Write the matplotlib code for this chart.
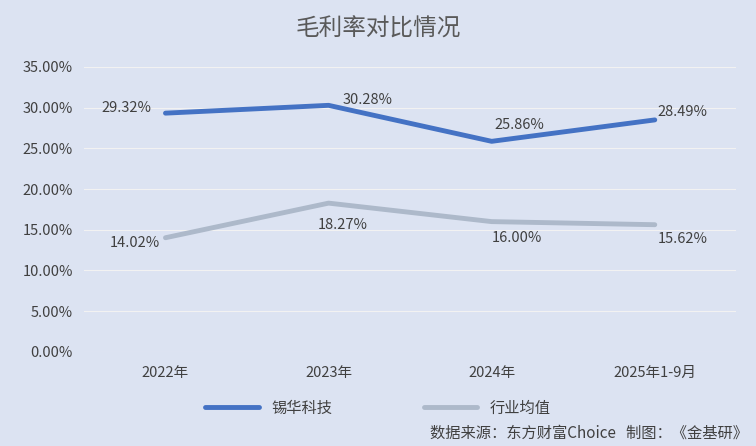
import matplotlib.pyplot as plt

plt.rcParams['font.family'] = ['Noto Sans CJK SC', 'DejaVu Sans']

categories = ["2022年", "2023年", "2024年", "2025年1-9月"]
xihua = [29.32, 30.28, 25.86, 28.49]
industry = [14.02, 18.27, 16.00, 15.62]

# label offsets in points (dx, dy)
xihua_off = [(-28, 4), (28, 4), (20, 12), (20, 6)]
ind_off = [(-22, -4), (10, -16), (18, -12), (20, -10)]

bg = "#DCE3F2"
fig = plt.figure(figsize=(7.56, 4.46), dpi=100, facecolor=bg)
ax = fig.add_axes([0.111, 0.211, 0.863, 0.639], facecolor=bg)

x = list(range(len(categories)))
ax.plot(x, xihua, color="#4472C4", lw=3.5, label="锡华科技", solid_capstyle="round")
ax.plot(x, industry, color="#ADB9CA", lw=3.5, label="行业均值", solid_capstyle="round")

for i in x:
    ax.annotate(f"{xihua[i]:.2f}%", (i, xihua[i]), xytext=xihua_off[i], textcoords="offset points",
                ha="center", va="center", fontsize=10.5, color="#404040")
    ax.annotate(f"{industry[i]:.2f}%", (i, industry[i]), xytext=ind_off[i], textcoords="offset points",
                ha="center", va="center", fontsize=10.5, color="#404040")

ax.set_xlim(-0.5, 3.5)
ax.set_ylim(0, 35)
ax.set_yticks(range(0, 36, 5))
ax.set_yticklabels([f"{v:.2f}%" for v in range(0, 36, 5)])
ax.set_xticks(x)
ax.set_xticklabels(categories)
ax.tick_params(length=0, labelsize=10.5, colors="#404040")
ax.tick_params(axis="y", pad=8)
ax.tick_params(axis="x", pad=10)
ax.grid(axis="y", color="#F2F2F2", lw=0.8)
ax.set_axisbelow(True)
for s in ax.spines.values():
    s.set_visible(False)

fig.text(0.5, 0.935, "毛利率对比情况", ha="center", va="center", fontsize=17, color="#595959")
fig.legend(loc="center", bbox_to_anchor=(0.5, 0.085), ncol=2, frameon=False,
           fontsize=11, handlelength=3.5, columnspacing=6, labelcolor="#404040")
fig.text(0.99, 0.01, "数据来源：东方财富Choice   制图：《金基研》", ha="right", va="bottom",
         fontsize=11, color="#404040")

fig.savefig("out.png", dpi=100, facecolor=bg)
